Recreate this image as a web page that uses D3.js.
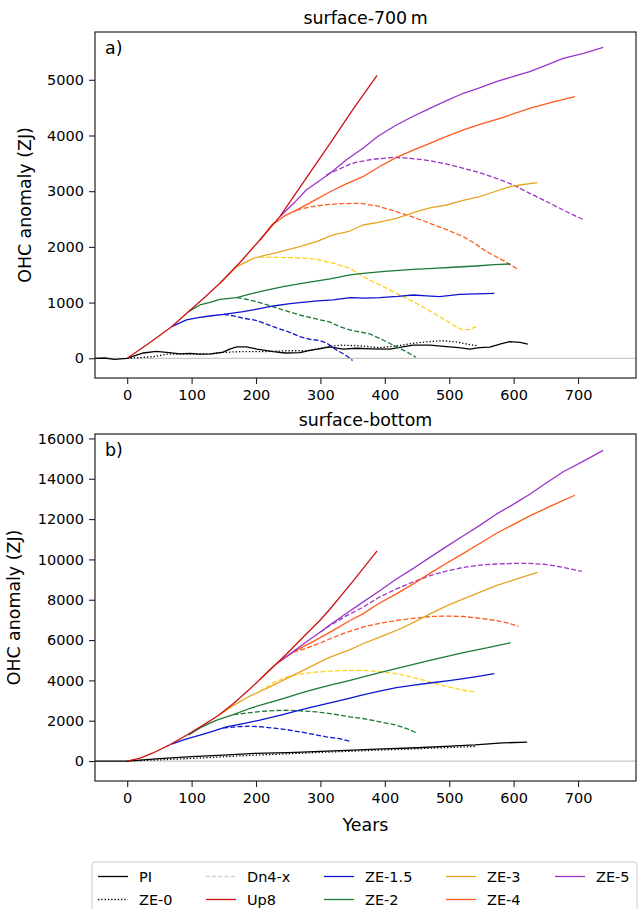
<!DOCTYPE html>
<html>

<head>
    <style>
        body { margin: 0; background: #fff; }
        text { font-family: "DejaVu Sans", sans-serif; fill: #000; }
        .tick text { font-size: 14.5px; }
    </style>
    <script src="https://d3js.org/d3.v7.min.js" charset="utf-8"></script>
</head>

<body>
    <script>
        // values, [year, ZJ]
        // panel a: surface-700 m
        const aPI = [[-50, 0], [-35, 5], [-20, -20], [-5, -5], [0, 0], [10, 40], [25, 95], [45, 125], [65, 100], [82, 80], [97, 88], [113, 75], [130, 80], [149, 110], [160, 170], [170, 205], [185, 205], [201, 165], [227, 120], [245, 95], [268, 100], [284, 140], [300, 175], [315, 205], [335, 165], [356, 180], [380, 170], [408, 165], [423, 195], [444, 235], [470, 235], [496, 210], [515, 190], [532, 165], [547, 190], [563, 200], [580, 260], [594, 300], [610, 285], [622, 255]];
        const aZE0 = [[0, 0], [25, 15], [45, 35], [61, 75], [85, 75], [113, 75], [130, 80], [149, 105], [175, 120], [216, 120], [247, 135], [278, 135], [300, 180], [315, 215], [330, 235], [360, 225], [392, 190], [423, 230], [444, 270], [470, 300], [490, 315], [510, 295], [530, 250], [545, 225]];
        const aUp8 = [[0, 0], [30, 240], [69, 567], [95, 837], [120, 1090], [144, 1347], [175, 1720], [206, 2124], [237, 2542], [270, 3100], [315, 3860], [350, 4460], [388, 5080]];
        const aZE15 = [[69, 567], [92, 690], [110, 730], [128, 759], [150, 790], [180, 837], [200, 880], [227, 939], [250, 975], [268, 998], [295, 1030], [320, 1050], [346, 1088], [370, 1080], [392, 1090], [420, 1110], [444, 1136], [465, 1120], [485, 1106], [516, 1149], [540, 1155], [570, 1167]];
        const aZE15dn = [[150, 790], [165, 760], [180, 720], [200, 680], [216, 615], [232, 545], [247, 490], [268, 390], [284, 340], [299, 320], [310, 270], [325, 150], [340, 50], [350, -40]];
        const aZE2 = [[95, 837], [113, 957], [130, 1010], [144, 1059], [170, 1088], [190, 1150], [206, 1196], [242, 1285], [278, 1357], [315, 1425], [346, 1496], [366, 1526], [400, 1560], [444, 1598], [475, 1615], [506, 1634], [542, 1657], [570, 1680], [595, 1693]];
        const aZE2dn = [[170, 1088], [185, 1060], [201, 1016], [220, 950], [237, 885], [268, 777], [299, 690], [315, 650], [330, 567], [346, 508], [377, 436], [397, 329], [418, 208], [435, 110], [448, 20]];
        const aZE3 = [[144, 1347], [170, 1645], [196, 1795], [215, 1850], [232, 1896], [268, 2004], [294, 2093], [320, 2214], [346, 2285], [366, 2393], [390, 2440], [418, 2513], [449, 2632], [470, 2700], [496, 2752], [520, 2830], [547, 2901], [570, 2990], [594, 3081], [615, 3120], [637, 3153]];
        const aZE3dn = [[205, 1821], [230, 1810], [258, 1806], [280, 1795], [294, 1777], [320, 1706], [346, 1616], [366, 1465], [390, 1330], [418, 1167], [449, 987], [470, 850], [485, 747], [506, 598], [521, 508], [532, 520], [542, 567]];
        const aZE4 = [[206, 2124], [225, 2400], [245, 2560], [263, 2660], [290, 2830], [315, 2990], [340, 3130], [366, 3260], [390, 3430], [418, 3608], [445, 3740], [470, 3860], [495, 3980], [522, 4099], [550, 4210], [584, 4327], [625, 4488], [660, 4600], [695, 4697]];
        const aZE4dn = [[263, 2660], [285, 2720], [304, 2752], [330, 2775], [361, 2783], [390, 2730], [418, 2632], [445, 2530], [470, 2424], [500, 2290], [522, 2183], [540, 2060], [558, 1914], [585, 1750], [608, 1585]];
        const aZE5 = [[237, 2542], [260, 2800], [278, 3022], [315, 3321], [340, 3560], [366, 3770], [390, 3990], [418, 4188], [445, 4350], [470, 4488], [495, 4620], [522, 4758], [548, 4860], [573, 4966], [600, 5060], [625, 5146], [650, 5260], [677, 5386], [710, 5480], [739, 5583]];
        const aZE5dn = [[309, 3291], [330, 3400], [346, 3485], [356, 3520], [380, 3570], [413, 3608], [440, 3590], [470, 3547], [495, 3490], [522, 3411], [548, 3330], [573, 3232], [600, 3110], [625, 2962], [650, 2820], [677, 2662], [695, 2560], [710, 2483]];

        // panel b: surface-bottom
        const bPI = [[-50, 0], [0, 0], [25, 60], [50, 120], [100, 222], [150, 290], [198, 380], [250, 420], [301, 484], [350, 540], [398, 603], [450, 660], [502, 741], [540, 800], [583, 900], [621, 934]];
        const bZE0 = [[0, 0], [50, 60], [100, 130], [150, 210], [198, 293], [250, 360], [301, 431], [350, 490], [398, 553], [450, 610], [485, 656], [542, 724]];
        const bUp8 = [[0, 0], [20, 140], [40, 400], [66, 800], [92, 1280], [118, 1780], [141, 2250], [165, 2850], [190, 3560], [216, 4350], [247, 5300], [278, 6300], [299, 6970], [315, 7540], [350, 8900], [388, 10420]];
        const bZE15 = [[69, 840], [90, 1080], [113, 1285], [130, 1450], [154, 1695], [180, 1860], [206, 2027], [240, 2290], [268, 2521], [290, 2700], [315, 2880], [346, 3120], [366, 3280], [390, 3450], [418, 3643], [445, 3760], [470, 3871], [500, 3990], [522, 4088], [545, 4200], [570, 4335]];
        const bZE15dn = [[149, 1640], [170, 1700], [190, 1730], [210, 1690], [232, 1616], [250, 1540], [268, 1448], [290, 1320], [309, 1201], [330, 1110], [348, 960]];
        const bZE2 = [[95, 1285], [115, 1680], [139, 2027], [165, 2300], [190, 2605], [215, 2850], [242, 3099], [268, 3350], [294, 3594], [320, 3800], [346, 4000], [392, 4380], [430, 4680], [470, 4993], [522, 5380], [560, 5620], [595, 5868]];
        const bZE2dn = [[165, 2300], [185, 2380], [201, 2437], [220, 2490], [242, 2521], [265, 2500], [294, 2437], [320, 2330], [346, 2190], [366, 2110], [390, 1960], [418, 1780], [435, 1600], [449, 1400]];
        const bZE3 = [[141, 2250], [165, 2760], [190, 3213], [206, 3450], [220, 3650], [247, 4088], [270, 4450], [294, 4830], [315, 5156], [346, 5522], [366, 5818], [390, 6120], [418, 6476], [445, 6880], [470, 7301], [495, 7680], [522, 8043], [548, 8380], [573, 8700], [605, 9030], [637, 9357]];
        const bZE3dn = [[206, 3450], [225, 3850], [247, 4167], [270, 4320], [294, 4414], [320, 4470], [346, 4498], [366, 4498], [390, 4440], [418, 4335], [445, 4140], [470, 3920], [495, 3700], [522, 3510], [542, 3426]];
        const bZE4 = [[206, 4050], [230, 4780], [260, 5450], [290, 5950], [315, 6392], [346, 6970], [366, 7301], [390, 7800], [418, 8290], [445, 8800], [470, 9308], [495, 9800], [522, 10297], [548, 10800], [573, 11286], [600, 11740], [625, 12160], [660, 12680], [695, 13183]];
        const bZE4dn = [[258, 5400], [278, 5600], [300, 5850], [315, 6065], [340, 6380], [366, 6639], [390, 6820], [418, 6970], [445, 7080], [470, 7168], [495, 7190], [522, 7168], [548, 7080], [573, 6970], [590, 6850], [608, 6673]];
        const bZE5 = [[237, 4950], [260, 5480], [278, 5900], [300, 6400], [315, 6760], [340, 7320], [366, 7880], [392, 8450], [418, 9031], [445, 9570], [470, 10099], [495, 10620], [522, 11172], [548, 11700], [573, 12244], [600, 12740], [625, 13233], [650, 13780], [677, 14350], [710, 14900], [739, 15408]];
        const bZE5dn = [[300, 6400], [315, 6720], [340, 7200], [366, 7627], [390, 8100], [418, 8537], [445, 8900], [470, 9194], [495, 9420], [522, 9605], [548, 9720], [573, 9773], [600, 9800], [625, 9802], [650, 9750], [677, 9605], [706, 9407]];

        const xTicks = [0, 100, 200, 300, 400, 500, 600, 700];
        const aTicks = [0, 1000, 2000, 3000, 4000, 5000];
        const bTicks = [0, 2000, 4000, 6000, 8000, 10000, 12000, 14000, 16000];
        const legendNames = ["PI", "ZE-0", "Dn4-x", "Up8", "ZE-1.5", "ZE-2", "ZE-3", "ZE-4", "ZE-5"];

        const colors = {
            PI: "#000", ZE0: "#000", Dn: "#cdd2dc", Up8: "#cc1111", ZE15: "#0a14cc",
            ZE2: "#1b7a36", ZE3: "#e8a323", ZE3dn: "#ffd21a", ZE4: "#ff5a1e", ZE5: "#9a35c8"
        };
        const dashed = "5,2.2";
        const dotted = "1.3,2";

        const w = 639;
        const h = 909;
        const left = 95, right = 636;

        const svg = d3.select("body")
            .append("svg")
            .attr("width", w)
            .attr("height", h);

        const xScale = d3.scaleLinear().domain([-50, 790]).range([left, right]);

        function panel(top, bottom, yDomain, yTicks, title, tag, labelX, series, showYears) {
            const yScale = d3.scaleLinear().domain(yDomain).range([bottom, top]);
            const g = svg.append("g");

            g.append("line")
                .attr("x1", left).attr("x2", right)
                .attr("y1", yScale(0)).attr("y2", yScale(0))
                .attr("stroke", "#c8c8c8").attr("stroke-width", 1.2);

            const line = d3.line()
                .x((d) => xScale(d[0]))
                .y((d) => yScale(d[1]));

            g.selectAll("path.series")
                .data(series)
                .enter()
                .append("path")
                .attr("class", "series")
                .attr("d", (s) => line(s.data))
                .attr("fill", "none")
                .attr("stroke", (s) => s.color)
                .attr("stroke-width", 1.3)
                .attr("stroke-dasharray", (s) => s.dash || null)
                .attr("stroke-linejoin", "round");

            const xAxis = d3.axisBottom(xScale).tickValues(xTicks).tickSize(6).tickPadding(6).tickFormat(d3.format("d"));
            const yAxis = d3.axisLeft(yScale).tickValues(yTicks).tickSize(6).tickPadding(5).tickFormat(d3.format("d"));

            g.append("g")
                .attr("transform", "translate(0," + bottom + ")")
                .call(xAxis)
                .call((a) => a.select(".domain").remove());
            g.append("g")
                .attr("transform", "translate(" + left + ",0)")
                .call(yAxis)
                .call((a) => a.select(".domain").remove());
            g.selectAll(".tick line").attr("stroke", "#222").attr("stroke-width", 1.1);

            g.append("rect")
                .attr("x", left).attr("y", top)
                .attr("width", right - left).attr("height", bottom - top)
                .attr("fill", "none").attr("stroke", "#222").attr("stroke-width", 1.2);

            g.append("text")
                .attr("x", (left + right) / 2).attr("y", top - 8)
                .attr("text-anchor", "middle")
                .style("font-size", "17.4px")
                .text(title);

            g.append("text")
                .attr("x", left + 10).attr("y", top + 22)
                .style("font-size", "17.4px")
                .text(tag);

            g.append("text")
                .attr("transform", "translate(" + labelX + "," + ((top + bottom) / 2) + ") rotate(-90)")
                .attr("text-anchor", "middle")
                .style("font-size", "17.4px")
                .text("OHC anomaly (ZJ)");

            if (showYears) {
                g.append("text")
                    .attr("x", (left + right) / 2).attr("y", bottom + 50)
                    .attr("text-anchor", "middle")
                    .style("font-size", "17.4px")
                    .text("Years");
            }
        }

        const seriesA = [
            { data: aPI, color: colors.PI },
            { data: aZE0, color: colors.ZE0, dash: dotted },
            { data: aZE15dn, color: colors.ZE15, dash: dashed },
            { data: aZE2dn, color: colors.ZE2, dash: dashed },
            { data: aZE3dn, color: colors.ZE3dn, dash: dashed },
            { data: aZE4dn, color: colors.ZE4, dash: dashed },
            { data: aZE5dn, color: colors.ZE5, dash: dashed },
            { data: aZE15, color: colors.ZE15 },
            { data: aZE2, color: colors.ZE2 },
            { data: aZE3, color: colors.ZE3 },
            { data: aZE4, color: colors.ZE4 },
            { data: aZE5, color: colors.ZE5 },
            { data: aUp8, color: colors.Up8 }
        ];
        const seriesB = [
            { data: bPI, color: colors.PI },
            { data: bZE0, color: colors.ZE0, dash: dotted },
            { data: bZE15dn, color: colors.ZE15, dash: dashed },
            { data: bZE2dn, color: colors.ZE2, dash: dashed },
            { data: bZE3dn, color: colors.ZE3dn, dash: dashed },
            { data: bZE4dn, color: colors.ZE4, dash: dashed },
            { data: bZE5dn, color: colors.ZE5, dash: dashed },
            { data: bZE15, color: colors.ZE15 },
            { data: bZE2, color: colors.ZE2 },
            { data: bZE3, color: colors.ZE3 },
            { data: bZE4, color: colors.ZE4 },
            { data: bZE5, color: colors.ZE5 },
            { data: bUp8, color: colors.Up8 }
        ];

        panel(32, 378, [-354, 5858], aTicks, "surface-700\u2009m", "a)", 31, seriesA, false);
        panel(434, 781, [-990, 16220], bTicks, "surface-bottom", "b)", 20, seriesB, true);

        // legend, 5 columns x 2 rows
        const legendStyle = [
            { color: colors.PI }, { color: colors.ZE0, dash: dotted }, { color: colors.Dn, dash: "4,2.2" },
            { color: colors.Up8 }, { color: colors.ZE15 }, { color: colors.ZE2 },
            { color: colors.ZE3 }, { color: colors.ZE4 }, { color: colors.ZE5 }
        ];
        const colX = [98, 206, 324, 446, 555];
        const rowY = [876.5, 899.5];

        svg.append("rect")
            .attr("x", 92).attr("y", 862)
            .attr("width", 545).attr("height", 56)
            .attr("rx", 3)
            .attr("fill", "#fff").attr("stroke", "#cccccc").attr("stroke-width", 1);

        const items = svg.selectAll("g.legend")
            .data(legendNames)
            .enter()
            .append("g")
            .attr("class", "legend")
            .attr("transform", (d, i) => "translate(" + colX[Math.floor(i / 2)] + "," + rowY[i % 2] + ")");

        items.append("line")
            .attr("x1", 0).attr("x2", 30)
            .attr("stroke", (d, i) => legendStyle[i].color)
            .attr("stroke-width", 1.3)
            .attr("stroke-dasharray", (d, i) => legendStyle[i].dash || null);

        items.append("text")
            .attr("x", 41).attr("y", 5)
            .style("font-size", "14.5px")
            .text((d) => d);
    </script>
</body>

</html>
